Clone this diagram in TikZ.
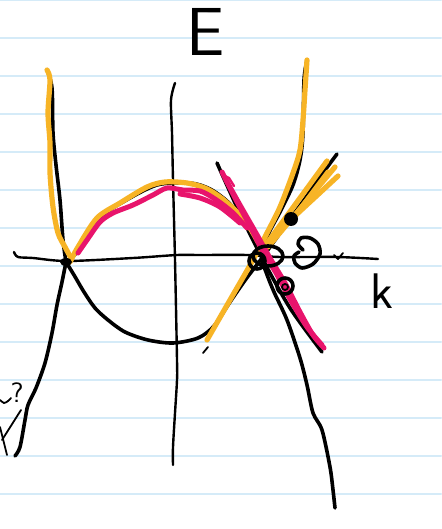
\documentclass[tikz,border=0pt]{standalone}
\usetikzlibrary{calc}

\definecolor{ruleblue}{HTML}{D5EBF8}
\definecolor{penorange}{HTML}{F7B426}
\definecolor{penpink}{HTML}{E8146C}

\begin{document}
\begin{tikzpicture}[
    x=0.5pt, y=-0.5pt,
    line cap=round,
    line join=round,
    rule/.style={draw=ruleblue, line width=1pt},
    axis/.style={draw=black, line width=1.2pt},
    band/.style={draw=black, line width=1.8pt},
    thinband/.style={draw=black, line width=0.9pt},
    orangepen/.style={draw=penorange, line width=2.6pt},
    pinkpen/.style={draw=penpink, line width=2.5pt},
    dot/.style={fill=black},
    pentext/.style={inner sep=0pt, font=\sffamily}
]

% ------------------------
% Paper
% ------------------------
\fill[white] (0,0) rectangle (441,529);
\useasboundingbox (0,0) rectangle (441,529);
\foreach \ry in {0,38,...,494}
    \draw[rule] (0,\ry) -- (441,\ry);

% ------------------------
% Axes and labels
% ------------------------
\draw[axis] plot[smooth, tension=0.5] coordinates {(14,252) (18,257) (33,258) (67,261) (133,258) (177,255) (200,255) (247,255) (280,257) (337,257) (378,259)};
\draw[axis] plot[smooth, tension=0.5] coordinates {(175,83) (171,100) (172,133) (173,180) (175,260) (177,360) (177,380) (175,413) (173,447) (173,465)};
\draw[thinband] (334,255) -- (338,259) -- (343,253);

\node[pentext, font=\sffamily\fontsize{34}{34}\selectfont] (elabel) at (206,32) {E};
\node[pentext, font=\sffamily\fontsize{25}{25}\selectfont] (klabel) at (382,291) {k};
\node[pentext, font=\sffamily\fontsize{14}{14}\selectfont] (qlabel) at (17,393) {?};
\draw[thinband] plot[smooth] coordinates {(0,400) (4,403) (8,401) (11,398)};
\draw[thinband] (21,410) -- (2,440);
\draw[thinband] (0,427) -- (7,455);

% ------------------------
% Black bands
% ------------------------
\coordinate (lcross) at (66,262);
\coordinate (rcross) at (262,258);

\draw[band] plot[smooth] coordinates {(47,70) (52,88) (53,133) (56,165) (60,200) (63,240) (66,262)};
\draw[band] plot[smooth] coordinates {(66,262) (62,282) (57,305) (52,333) (45,363) (36,388) (28,405) (25,420) (20,447) (15,456)};
\draw[band] plot[smooth] coordinates {(66,262) (74,275) (84,292) (95,308) (108,320) (125,332) (148,340) (173,343) (198,338) (214,326) (230,302) (246,279) (262,258) (283,229) (304,200) (320,177) (337,154)};
\draw[band] plot[smooth] coordinates {(307,60) (304,80) (303,133) (300,160) (293,185) (280,212) (268,235) (262,258) (266,272) (274,292) (287,320) (300,358) (307,385) (313,413) (322,430) (330,467) (333,490) (335,508)};
\draw[band] plot[smooth] coordinates {(217,163) (236,205) (262,258) (290,308) (322,352)};
\draw[band] plot[smooth] coordinates {(66,262) (77,252) (100,218) (123,202) (157,185) (190,183) (210,189) (228,202) (245,222) (256,240) (262,255)};
\draw[thinband] (203,353) -- (208,347);

% ------------------------
% Orange highlight
% ------------------------
\draw[orangepen] plot[smooth] coordinates {(47,70) (50,80) (48,113) (50,143) (50,173) (53,207) (58,233) (65,247) (71,258)};
\draw[orangepen] plot[smooth] coordinates {(70,262) (78,247) (97,218) (120,203) (147,187) (165,182) (187,183) (205,188) (220,197) (235,210) (248,225) (258,242)};
\draw[orangepen] plot[smooth] coordinates {(207,340) (230,300) (253,260) (267,233) (280,207) (293,173) (300,150) (303,120) (305,90) (307,60)};
\draw[orangepen] (262,250) -- (327,161);
\draw[orangepen] (268,247) -- (335,167);
\draw[orangepen] (284,226) -- (338,176);
\draw[orangepen] (292,220) -- (328,172);

% ------------------------
% Pink highlight
% ------------------------
\draw[pinkpen] plot[smooth] coordinates {(78,253) (87,240) (100,222) (113,213) (133,205) (153,195) (167,188) (183,190) (200,191) (215,199) (232,212) (247,228)};
\draw[pinkpen] plot[smooth] coordinates {(180,194) (200,198) (220,207) (240,223)};
\draw[pinkpen] plot[smooth] coordinates {(222,172) (236,200) (250,226) (262,250) (276,273) (291,301) (307,327) (322,345)};
\draw[pinkpen] plot[smooth] coordinates {(226,180) (240,205) (256,233) (270,258) (285,283) (300,312) (313,335) (324,348)};
\draw[pinkpen, line width=1.2pt] (225,176) -- (229,178) -- (234,186);

% ------------------------
% Marked points
% ------------------------
\fill[dot] (lcross) ellipse [x radius=6, y radius=4];
\draw[band] (268,256) ellipse [x radius=15, y radius=10];
\draw[band] (257,261) circle [radius=8];
\fill[dot] (291,219) circle [radius=7];
\draw[band] (285,286) circle [radius=8];
\draw[thinband] (285,287) circle [radius=3];
\draw[band] plot[smooth] coordinates {(303,250) (298,244) (301,238) (310,238) (318,244) (320,254) (313,264) (302,268) (295,263) (294,256) (299,252)};

\end{tikzpicture}
\end{document}
